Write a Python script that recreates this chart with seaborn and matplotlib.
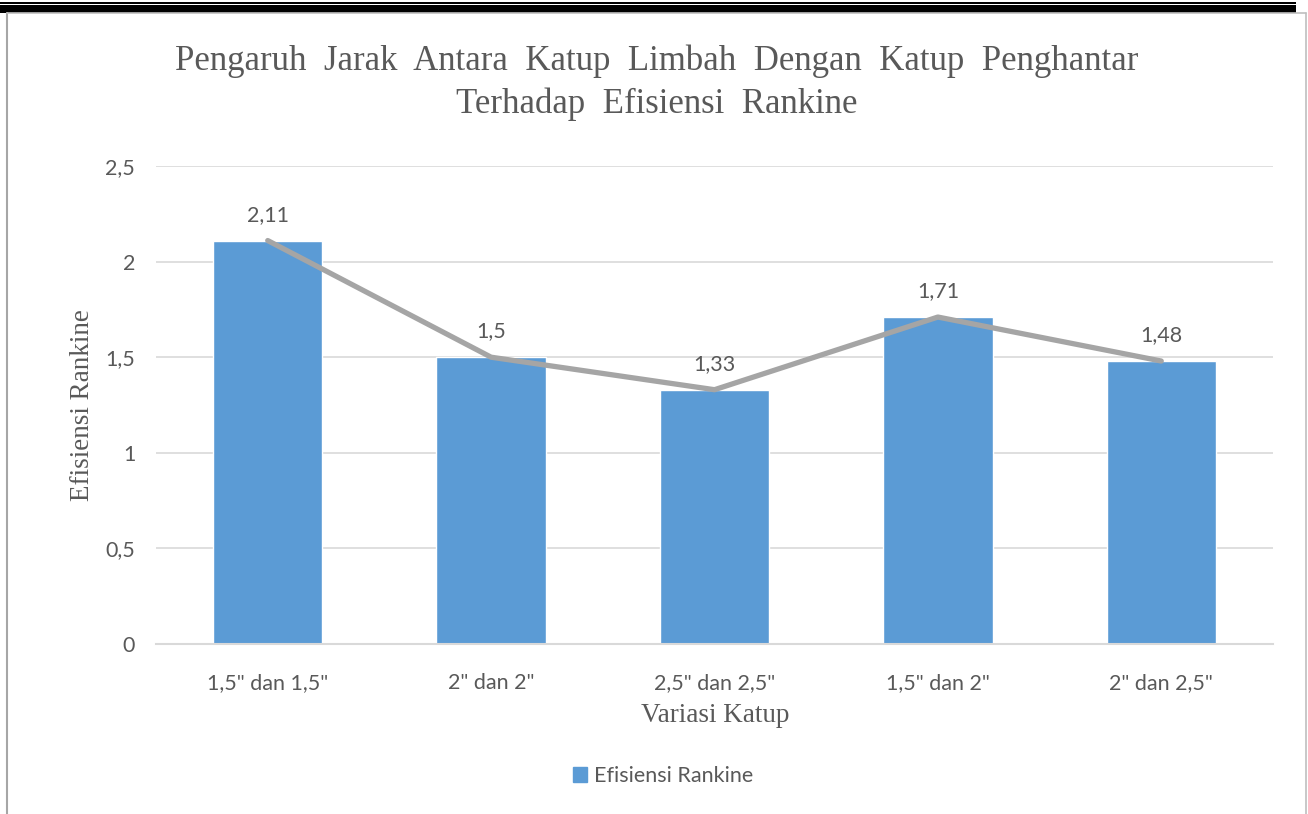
import matplotlib
matplotlib.use("Agg")
import matplotlib.pyplot as plt
import seaborn as sns
import pandas as pd
from matplotlib.patches import Rectangle
from matplotlib.lines import Line2D

# Data
categories = ['1,5" dan 1,5"', '2" dan 2"', '2,5" dan 2,5"', '1,5" dan 2"', '2" dan 2,5"']
efisiensi = [2.11, 1.50, 1.33, 1.71, 1.48]
label_text = ["2,11", "1,5", "1,33", "1,71", "1,48"]
yticks = [0, 0.5, 1, 1.5, 2, 2.5]
ytick_labels = ["0", "0,5", "1", "1,5", "2", "2,5"]

df = pd.DataFrame({"Variasi": categories, "Efisiensi": efisiensi})

sns.set_style("white")
plt.rcParams["font.family"] = ["Lato", "DejaVu Sans"]

bar_color = "#5B9BD5"
line_color = "#A5A5A5"
text_gray = "#595959"
serif = ["Liberation Serif", "DejaVu Serif"]

fig = plt.figure(figsize=(13.08, 8.14), dpi=100)
ax = fig.add_axes([0.1193, 0.2088, 0.8539, 0.5873])

sns.barplot(data=df, x="Variasi", y="Efisiensi", color=bar_color, width=0.49,
            saturation=1, ax=ax, zorder=2)
sns.lineplot(data=df, x="Variasi", y="Efisiensi", color=line_color, linewidth=3.8,
             sort=False, ax=ax, zorder=3)

for i, (v, t) in enumerate(zip(efisiensi, label_text)):
    ax.annotate(t, (i, v), xytext=(0, 18.5), textcoords="offset points",
                ha="center", va="center", fontsize=15.5, color=text_gray)

ax.set_ylim(0, 2.5)
ax.set_xlim(-0.5, len(categories) - 0.5)
ax.set_yticks(yticks)
ax.set_yticklabels(ytick_labels)
ax.grid(axis="y", color="#D9D9D9", linewidth=1.2, zorder=0)
ax.set_axisbelow(True)
for s in ["top", "right", "left"]:
    ax.spines[s].set_visible(False)
ax.spines["bottom"].set_color("#D9D9D9")
ax.spines["bottom"].set_linewidth(1.5)
ax.tick_params(axis="both", length=0, labelsize=15.5, labelcolor=text_gray)
ax.tick_params(axis="x", pad=21)
ax.tick_params(axis="y", pad=15)
ax.set_xlabel("")
ax.set_ylabel("")

fig.text(0.5023, 0.898, "Pengaruh  Jarak  Antara  Katup  Limbah  Dengan  Katup  Penghantar\nTerhadap  Efisiensi  Rankine",
         ha="center", va="center", fontsize=25, color=text_gray, family=serif,
         linespacing=1.38)
fig.text(0.0627, 0.502, "Efisiensi Rankine", rotation=90, ha="center", va="center",
         fontsize=19.5, color=text_gray, family=serif)
fig.text(0.5466, 0.1216, "Variasi Katup", ha="center", va="center",
         fontsize=19.5, color=text_gray, family=serif)

handles = [Rectangle((0, 0), 1, 1, color=bar_color)]
fig.legend(handles, ["Efisiensi Rankine"], loc="center", bbox_to_anchor=(0.507, 0.0467),
           frameon=False, fontsize=15.5, labelcolor=text_gray, handlelength=0.65,
           handleheight=0.65, handletextpad=0.3)

# document border decoration
fig.add_artist(Rectangle((0.0, 1 - 12.5 / 814), 1296 / 1308, 7.5 / 814,
                         transform=fig.transFigure, color="black", lw=0))
fig.add_artist(Rectangle((0.0, 1 - 3.5 / 814), 1296 / 1308, 1.8 / 814,
                         transform=fig.transFigure, color="black", lw=0))
fig.add_artist(Line2D([6.5 / 1308, 6.5 / 1308], [0, 1 - 12.5 / 814],
                      transform=fig.transFigure, color="#A6A6A6", lw=1.5))
fig.add_artist(Line2D([1305.5 / 1308, 1305.5 / 1308], [0, 1 - 12.5 / 814],
                      transform=fig.transFigure, color="#BFBFBF", lw=1.2))
fig.add_artist(Line2D([6.5 / 1308, 1305.5 / 1308], [1 - 13 / 814, 1 - 13 / 814],
                      transform=fig.transFigure, color="#BFBFBF", lw=1.2))

fig.savefig("out.png", dpi=100)
